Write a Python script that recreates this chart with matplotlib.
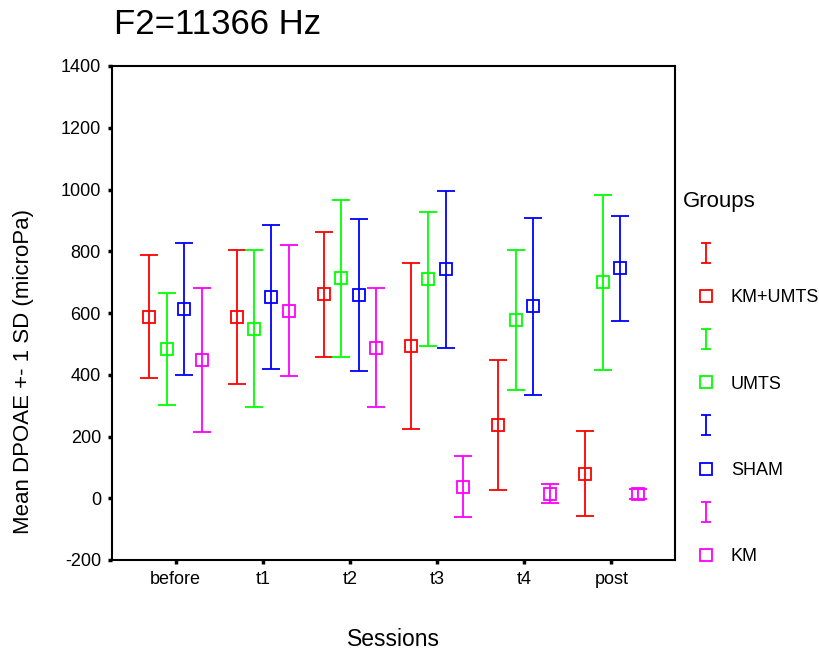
import numpy as np
import matplotlib
matplotlib.use("Agg")
import matplotlib.pyplot as plt
from matplotlib.lines import Line2D
from matplotlib.path import Path

plt.rcParams['font.family'] = ['Liberation Sans', 'DejaVu Sans']
plt.rcParams['axes.unicode_minus'] = False

# ------------------------------------------
# DATA (mean and 1 SD)
# ------------------------------------------
sessions = ['before', 't1', 't2', 't3', 't4', 'post']
groups = ['KM+UMTS', 'UMTS', 'SHAM', 'KM']
colors = ['#FF0000', '#00FF00', '#0000FF', '#FF00FF']

km_umts_mean = [588, 587, 661, 494, 237, 80]
km_umts_sd = [199, 216, 202, 269, 211, 138]

umts_mean = [483, 549, 713, 710, 578, 699]
umts_sd = [181, 254, 254, 217, 226, 282]

sham_mean = [614, 652, 658, 742, 622, 745]
sham_sd = [214, 233, 246, 254, 287, 170]

km_mean = [447, 608, 488, 37, 15, 14]
km_sd = [233, 213, 192, 99, 30, 16]

means = [km_umts_mean, umts_mean, sham_mean, km_mean]
sds = [km_umts_sd, umts_sd, sham_sd, km_sd]
offsets = [-0.3, -0.1, 0.1, 0.3]

# ------------------------------------------
# PLOT
# ------------------------------------------
fig = plt.figure(figsize=(8.19, 6.55), dpi=100)
ax = fig.add_axes([112 / 819, 1 - 560 / 655, (675 - 112) / 819, (560 - 66) / 655])

x = np.arange(len(sessions))
for m, s, off, c in zip(means, sds, offsets, colors):
    ax.errorbar(x + off, m, yerr=s, fmt='s', color=c, ecolor=c,
                markersize=8, markerfacecolor='none', markeredgewidth=1.3,
                elinewidth=1.3, capsize=6.8, capthick=1.3)

ax.set_xlim(-0.73, 5.73)
ax.set_ylim(-200, 1400)
ax.set_yticks(range(-200, 1401, 200))
ax.set_xticks(x)
ax.set_xticklabels(sessions)
ax.tick_params(direction='out', length=3, width=2.5, labelsize=13, pad=5)
for sp in ax.spines.values():
    sp.set_linewidth(1.5)

fig.text(114 / 819, 1 - 24 / 655, 'F2=11366 Hz', fontsize=25, va='center', ha='left')
fig.text(393 / 819, 1 - 640 / 655, 'Sessions', fontsize=16.5, va='center', ha='center')
fig.text(24 / 819, 1 - 371 / 655, 'Mean DPOAE +- 1 SD (microPa)', fontsize=16,
         rotation=90, va='center', ha='center')
fig.text(683 / 819, 1 - 202 / 655, 'Groups', fontsize=16, va='center', ha='left')

# legend: an "I" glyph row and a square row per group
ibar = Path([(-0.25, -0.5), (0.25, -0.5), (0, -0.5), (0, 0.5), (-0.25, 0.5), (0.25, 0.5)],
            [Path.MOVETO, Path.LINETO, Path.MOVETO, Path.LINETO, Path.MOVETO, Path.LINETO])
handles = []
labels = []
for g, c in zip(groups, colors):
    handles.append(Line2D([], [], linestyle='none', marker=ibar, markersize=15,
                          markeredgecolor=c, markeredgewidth=1.3, fillstyle='none'))
    labels.append('')
    handles.append(Line2D([], [], linestyle='none', marker='s', markersize=8,
                          markeredgecolor=c, markerfacecolor='none', markeredgewidth=1.3))
    labels.append(g)

ax.legend(handles, labels, fontsize=13,
          loc='upper left', bbox_to_anchor=(683 / 819, 1 - 246 / 655),
          bbox_transform=fig.transFigure, frameon=False,
          borderpad=0, borderaxespad=0, handlelength=2.55, handletextpad=0.1,
          labelspacing=1.45)

plt.savefig('out.png', dpi=100)
